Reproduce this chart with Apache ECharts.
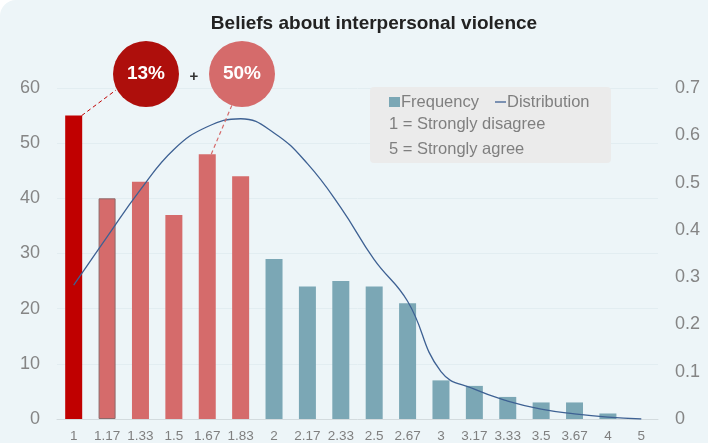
<!DOCTYPE html>
<html>
<head>
<meta charset="utf-8">
<script src="https://cdn.jsdelivr.net/npm/echarts@6/dist/echarts.min.js"></script>
<style>
html,body{margin:0;padding:0;background:#ffffff;}
#c{width:708px;height:443px;background:#edf5f8;border-radius:16px 0 0 0;}
</style>
</head>
<body>
<div id="c"></div>
<script>
const categories = ['1','1.17','1.33','1.5','1.67','1.83','2','2.17','2.33','2.5','2.67','3','3.17','3.33','3.5','3.67','4','5'];
const frequency = [55,40,43,37,48,44,29,24,25,24,21,7,6,4,3,3,1,0];
const distribution = [0.283,0.385,0.485,0.57,0.618,0.635,0.605,0.54,0.447,0.337,0.249,0.10,0.063,0.038,0.021,0.011,0.004,0];
const leftTicks = {min:0,max:60,interval:10};
const rightTicks = {min:0,max:0.7,interval:0.1};
const title = 'Beliefs about interpersonal violence';
const badges = ['13%','50%'];

const DARK = '#c00000', LIGHT = '#d56b6b', TEAL = '#7ba7b5', LINE = '#3e6193';
const FONT = 'Liberation Sans, Arial, sans-serif';

function barColor(i){ return i === 0 ? DARK : (i <= 5 ? LIGHT : TEAL); }
const barData = frequency.map((v, i) => ({
  value: v,
  itemStyle: {color: barColor(i), borderColor: i === 1 ? '#8c6a6a' : barColor(i), borderWidth: i === 1 ? 1 : 0}
}));

const chart = echarts.init(document.getElementById('c'), null, {renderer:'canvas'});
const option = {
  backgroundColor: 'transparent',
  animation: false,
  textStyle: {fontFamily: FONT},
  title: {text: title, left: 369, textAlign: 'center', top: 9,
    textStyle: {fontSize: 19, fontWeight: 'bold', color: '#222', fontFamily: FONT}},
  grid: {left: 57, right: 50, top: 88, bottom: 23, containLabel: false},
  xAxis: {type: 'category', data: categories,
    axisLine: {lineStyle: {color: '#d3dbde', width: 1}},
    axisTick: {show: false},
    axisLabel: {color: '#7f7f7f', fontSize: 13.5, margin: 10, interval: 0}},
  yAxis: [
    {type: 'value', min: leftTicks.min, max: leftTicks.max, interval: leftTicks.interval,
      axisLine: {show: false}, axisTick: {show: false},
      axisLabel: {color: '#858585', fontSize: 18, margin: 17},
      splitLine: {lineStyle: {color: '#e2edf1', width: 1}}},
    {type: 'value', min: rightTicks.min, max: rightTicks.max, interval: rightTicks.interval,
      axisLine: {show: false}, axisTick: {show: false},
      axisLabel: {color: '#858585', fontSize: 18, margin: 17},
      splitLine: {show: false}}
  ],
  series: [
    {name: 'Frequency', type: 'bar', data: barData, barWidth: 17, yAxisIndex: 0},
    {name: 'Distribution', type: 'line', data: distribution, yAxisIndex: 1, smooth: 0.45,
      symbol: 'none', lineStyle: {color: LINE, width: 1.3}, z: 5}
  ]
};
chart.setOption(option);

function annotate(){
  const p0 = chart.convertToPixel({xAxisIndex:0, yAxisIndex:0}, [0, frequency[0]]);
  const p4 = chart.convertToPixel({xAxisIndex:0, yAxisIndex:0}, [4, frequency[4]]);
  const c1 = [146, 74], c2 = [242, 74], r = 33;
  const lx = 370, ly = 87;
  chart.setOption({graphic: [
    {type:'line', shape:{x1:p0[0]+8, y1:p0[1], x2:c1[0]-30, y2:c1[1]+16}, style:{stroke:DARK, lineWidth:1, lineDash:[4,3]}, z:10},
    {type:'line', shape:{x1:p4[0]+4, y1:p4[1], x2:c2[0]-10, y2:c2[1]+31}, style:{stroke:LIGHT, lineWidth:1.2, lineDash:[4,3]}, z:10},
    {type:'circle', shape:{cx:c1[0], cy:c1[1], r:r}, style:{fill:'#ae0f0c'}, z:11},
    {type:'circle', shape:{cx:c2[0], cy:c2[1], r:r}, style:{fill:LIGHT}, z:11},
    {type:'text', x:c1[0], y:c1[1], style:{text:badges[0], fill:'#fff', font:'bold 19px '+FONT, align:'center', verticalAlign:'middle'}, z:12},
    {type:'text', x:c2[0], y:c2[1], style:{text:badges[1], fill:'#fff', font:'bold 19px '+FONT, align:'center', verticalAlign:'middle'}, z:12},
    {type:'text', x:194, y:77, style:{text:'+', fill:'#333', font:'bold 15px '+FONT, align:'center', verticalAlign:'middle'}, z:12},
    {type:'rect', shape:{x:lx, y:ly, width:241, height:76, r:4}, style:{fill:'#ebebeb'}, z:9},
    {type:'rect', shape:{x:389, y:97, width:11, height:10}, style:{fill:TEAL}, z:10},
    {type:'text', x:401, y:102, style:{text:'Frequency', fill:'#7f7f7f', font:'16.5px '+FONT, verticalAlign:'middle'}, z:10},
    {type:'line', shape:{x1:495, y1:102, x2:506, y2:102}, style:{stroke:LINE, lineWidth:1.3}, z:10},
    {type:'text', x:507, y:102, style:{text:'Distribution', fill:'#7f7f7f', font:'16.5px '+FONT, verticalAlign:'middle'}, z:10},
    {type:'text', x:389, y:124, style:{text:'1 = Strongly disagree', fill:'#7f7f7f', font:'16.5px '+FONT, verticalAlign:'middle'}, z:10},
    {type:'text', x:389, y:149, style:{text:'5 = Strongly agree', fill:'#7f7f7f', font:'16.5px '+FONT, verticalAlign:'middle'}, z:10}
  ]});
}
annotate();
</script>
</body>
</html>
